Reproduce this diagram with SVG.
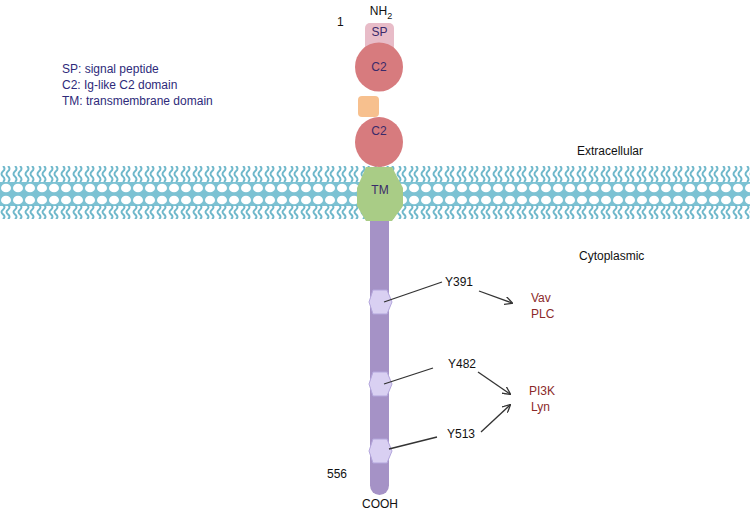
<svg xmlns="http://www.w3.org/2000/svg" width="750" height="521" viewBox="0 0 750 521">
<style>
text{font-family:"Liberation Sans",Arial,sans-serif;font-size:12px;fill:#111}
.leg{fill:#2e2a7a}
.dom{fill:#3a2a6a;font-size:12px}
.tgt{fill:#8b2a2a}
.ln{stroke:#333;stroke-width:1.3;fill:none}
.hex{fill:#d9d0f2;stroke:#b3a6dc;stroke-width:1}
</style>
<defs>
<pattern id="tails" width="12" height="16" patternUnits="userSpaceOnUse" y="166">
<path d="M3,0 q3,2.7 0,5.3 q-3,2.7 0,5.3 q3,2.7 0,5.3 M8,0 q3,2.7 0,5.3 q-3,2.7 0,5.3 q3,2.7 0,5.3" stroke="#6fb8cb" stroke-width="2" fill="none"/>
</pattern>
<pattern id="tails2" width="12" height="14" patternUnits="userSpaceOnUse" y="205">
<path d="M3,0 q3,2.3 0,4.7 q-3,2.3 0,4.7 q3,2.3 0,4.7 M8,0 q3,2.3 0,4.7 q-3,2.3 0,4.7 q3,2.3 0,4.7" stroke="#6fb8cb" stroke-width="2" fill="none"/>
</pattern>
<pattern id="heads" width="12" height="12" patternUnits="userSpaceOnUse" x="0" y="182">
<rect width="12" height="12" fill="#7cc2d3"/>
<ellipse cx="6" cy="6" rx="5" ry="4.3" fill="#fff"/>
</pattern>
<marker id="ar" viewBox="0 0 10 10" refX="9" refY="5" markerWidth="8" markerHeight="8" orient="auto" markerUnits="userSpaceOnUse">
<path d="M0,0 L10,5 L0,10" fill="none" stroke="#333" stroke-width="1.6"/>
</marker>
</defs>
<rect width="750" height="521" fill="#fff"/>
<g id="membrane">
<rect x="0" y="166" width="750" height="16" fill="url(#tails)"/>
<rect x="0" y="182" width="750" height="24" fill="url(#heads)"/>
<rect x="0" y="205" width="750" height="14" fill="url(#tails2)"/>
</g>
<g id="legend">
<text class="leg" x="62" y="73">SP: signal peptide</text>
<text class="leg" x="62" y="89">C2: Ig-like C2 domain</text>
<text class="leg" x="62" y="105">TM: transmembrane domain</text>
</g>
<text x="577" y="155">Extracellular</text>
<text x="579" y="260">Cytoplasmic</text>
<g id="stalk"><rect x="370" y="205" width="19" height="290" rx="9.5" fill="#a592c6"/></g>
<g id="sp"><rect x="365" y="23" width="29" height="28" rx="5" fill="#e8bcc8"/><text class="dom" x="379.5" y="36" text-anchor="middle">SP</text></g>
<g id="c2a"><ellipse cx="379" cy="67" rx="24" ry="24.5" fill="#d77b7e"/><text class="dom" x="379" y="71" text-anchor="middle">C2</text></g>
<g id="linker"><rect x="358" y="96" width="21" height="21" rx="4" fill="#f7c08e"/></g>
<g id="c2b"><ellipse cx="379" cy="142" rx="24" ry="25" fill="#d77b7e"/><text class="dom" x="379" y="135" text-anchor="middle">C2</text></g>
<g id="tm"><polygon points="366,167 392,167 403,188 403,206 392,221 366,221 357,206 357,188" fill="#a9cc86"/><text class="dom" x="380" y="194" text-anchor="middle">TM</text></g>
<text x="381" y="15" font-size="14" text-anchor="middle">NH<tspan font-size="9" dy="4">2</tspan></text>
<text x="337" y="26">1</text>
<text x="327" y="478">556</text>
<text x="362" y="508">COOH</text>
<g id="y391"><polygon class="hex" points="369,302 373,290 387,290 392,302 387,314 373,314"/></g>
<g id="y482"><polygon class="hex" points="369,384 373,372 387,372 392,384 387,396 373,396"/></g>
<g id="y513"><polygon class="hex" points="369,451 373,439 387,439 392,451 387,463 373,463"/></g>
<g id="connectors">
<line class="ln" x1="384" y1="302" x2="442" y2="282"/>
<line class="ln" x1="479" y1="291" x2="512" y2="303" marker-end="url(#ar)"/>
<line class="ln" x1="384" y1="384" x2="433" y2="368"/>
<line class="ln" x1="478" y1="372" x2="510" y2="394" marker-end="url(#ar)"/>
<line class="ln" x1="389" y1="449" x2="437" y2="437"/>
<line class="ln" x1="481" y1="432" x2="510" y2="405" marker-end="url(#ar)"/>
</g>
<text x="445" y="286">Y391</text>
<text x="448" y="368">Y482</text>
<text x="447" y="438">Y513</text>
<text class="tgt" x="531" y="302">Vav</text>
<text class="tgt" x="531" y="318">PLC</text>
<text class="tgt" x="529" y="395">PI3K</text>
<text class="tgt" x="531" y="411">Lyn</text>
</svg>
